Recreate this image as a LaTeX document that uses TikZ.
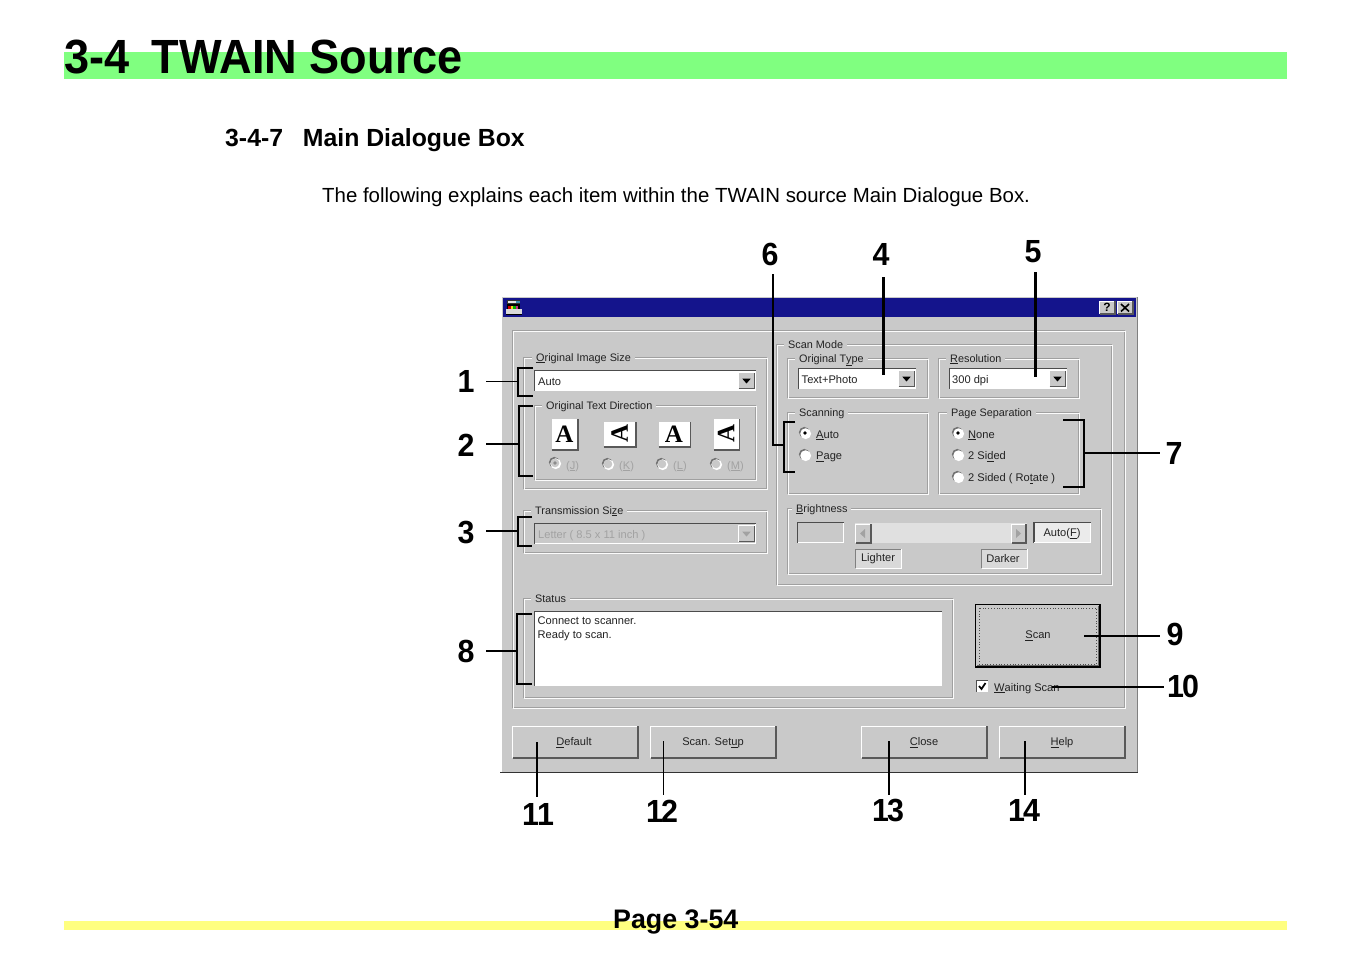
\documentclass[tikz,border=0pt]{standalone}
\usepackage{fontspec}
\usepackage{graphicx}
\setmainfont{Liberation Sans}
\newfontfamily\iconfont{Liberation Serif}
\definecolor{bg}{HTML}{C9C9C9}
\definecolor{navy}{HTML}{14148C}
\definecolor{barg}{HTML}{80FF80}
\definecolor{bary}{HTML}{FFFF80}
\definecolor{etch}{HTML}{A0A0A0}
\definecolor{uitxt}{HTML}{222222}
\definecolor{off}{HTML}{A2A2A2}
\newcount\lc
\tikzset{
  uilab/.style={anchor=base west,inner sep=0pt,text=uitxt,font=\fontsize{11.1}{13}\selectfont},
  uictr/.style={anchor=center,inner sep=0pt,text=uitxt,font=\fontsize{11.1}{13}\selectfont},
  grouptitle/.style={anchor=base west,inner xsep=4pt,inner ysep=1pt,fill=bg,text=uitxt,font=\fontsize{10.85}{13}\selectfont},
  etchd/.style={draw=etch,line width=1pt},
  etchw/.style={draw=white!92!bg,line width=1pt},
  bracket/.style={draw=black,line width=2pt,line join=miter},
  callout/.style={draw=black,line width=1.7pt},
  num/.style={inner sep=0pt,anchor=center,text=black,font=\fontsize{32}{34}\selectfont\bfseries},
  head/.style={anchor=base west,inner sep=0pt,text=black,font=\bfseries}
}
\newcommand{\lab}[3]{\global\advance\lc by 1 \node[uilab] (lab\the\lc) at (#1,#2) {#3};}
\newcommand{\laboff}[3]{\global\advance\lc by 1 \node[uilab,text=off] (lab\the\lc) at (#1,#2) {#3};}
\newcommand{\ctr}[3]{\global\advance\lc by 1 \node[uictr] (lab\the\lc) at (#1,#2+1) {#3};}
\newcommand{\grp}[6]{%
  \draw[etchd] (#1-0.5,#2-0.5) rectangle (#3-0.5,#4-0.5);
  \draw[etchw] (#1+0.5,#2+0.5) rectangle (#3+0.5,#4+0.5);
  \global\advance\lc by 1
  \node[grouptitle] (lab\the\lc) at (#5-4,#2+3) {#6};}
\newcommand{\raisedbox}[4]{%
  \fill[bg] (#1,#2) rectangle (#3,#4);
  \draw[white,line width=1pt] (#1,#4) -- (#1,#2) -- (#3,#2);
  \draw[black!65,line width=1.4pt] (#1,#4) -- (#3,#4) -- (#3,#2);}
\newcommand{\sunkbox}[5]{%
  \fill[#5] (#1-0.5,#2-0.5) rectangle (#3-0.5,#4-0.5);
  \draw[black!70,line width=1.4pt] (#1-0.5,#4-0.5) -- (#1-0.5,#2-0.5) -- (#3-0.5,#2-0.5);
  \draw[white,line width=1pt] (#1-0.5,#4-0.5) -- (#3-0.5,#4-0.5) -- (#3-0.5,#2-0.5);}
\newcommand{\combobtn}[3]{%
  \raisedbox{#1-0.5}{#2-0.5}{#1+15.5}{#2+15.5}
  \fill[#3] (#1+3.3,#2+5.7) -- (#1+11.7,#2+5.7) -- (#1+7.5,#2+10.5) -- cycle;}
\newcommand{\radio}[3]{%
  \fill[black!55] (#1-0.7,#2-0.7) circle[radius=5.4pt];
  \fill[white] (#1+0.7,#2+0.7) circle[radius=5.4pt];
  \fill[#3] (#1,#2) circle[radius=4.3pt];}
\newcommand{\radiodot}[2]{\fill[black] (#1,#2) circle[radius=1.8pt];}
\newcommand{\nn}[1]{\scalebox{0.95}[1]{#1}}
\newcommand{\nnn}[2]{\scalebox{0.95}[1]{#1\kern-2pt #2}}
\begin{document}
\begin{tikzpicture}[x=1pt,y=-1pt]
\useasboundingbox (0,0) rectangle (1352,954);
\fill[white] (0,0) rectangle (1352,954);
% page furniture
\fill[barg] (64,52) rectangle (1287,79);
\fill[bary] (64,921) rectangle (1287,930);
\node[head,font=\fontsize{48}{50}\selectfont\bfseries] (title) at (64,73) {\scalebox{0.94}[1]{3-4\hspace{0.5em}TWAIN Source}};
\node[head,font=\fontsize{24.8}{26}\selectfont\bfseries] (subtitle) at (225,146) {3-4-7\hspace{0.8em}Main Dialogue Box};
\node[anchor=base west,inner sep=0pt,font=\fontsize{20.43}{22}\selectfont] (intro) at (322,202) {The following explains each item within the TWAIN source Main Dialogue Box.};
\node[head,font=\fontsize{26.8}{28}\selectfont\bfseries] (page) at (613,928) {Page 3-54};
% window
\fill[bg] (501,296) rectangle (1138,773);
\draw[white,line width=1pt] (501,773) -- (501,296.5) -- (1138,296.5);
\draw[black!50,line width=1pt] (1137.5,297) -- (1137.5,773);
\draw[black!80,line width=1.4pt] (500,772.5) -- (1138,772.5);
\fill[navy] (503,298) rectangle (1136,316.5);
% window icon
\fill[black!80] (507,300) rectangle (520,304);
\fill[black!10] (508,300.8) rectangle (516,303);
\fill[cyan!70!black] (516,300.8) rectangle (519.5,303);
\fill[black] (507,304) rectangle (520,309);
\fill[red!80!black] (508,305.5) rectangle (510.5,308.5);
\fill[yellow!90!black] (510.5,305.5) rectangle (513,308.5);
\fill[green!70!black] (513,305.5) rectangle (515.5,308.5);
\fill[magenta!80!black] (515.5,305.5) rectangle (518,308.5);
\fill[black!15] (506,309) rectangle (522,314);
\draw[black,line width=0.8pt] (506,314.3) -- (522,314.3);
% title buttons
\raisedbox{1099.5}{301}{1115}{314}
\raisedbox{1117.5}{301}{1133}{314}
\node[inner sep=0pt,font=\fontsize{12}{12}\selectfont\bfseries] (help) at (1107,307.5) {?};
\coordinate (closex) at (1125,307.5);
\draw[black,line width=1.6pt] (1121,304) -- (1129,311.5) (1129,304) -- (1121,311.5);
% main panels
\draw[etchd] (512.5,330.5) rectangle (1124.5,707.5);
\draw[etchw] (513.5,331.5) rectangle (1125.5,708.5);
\grp{524}{358}{767}{489}{536}{\underline{O}riginal Image Size}
\grp{534.5}{406}{756}{480}{546}{Original Text Direction}
\grp{524}{511}{767}{553}{535}{Transmission Si\underline{z}e}
\grp{777}{345}{1112}{585}{788}{Scan Mode}
\grp{788}{359}{928}{398}{799}{Original T\underline{y}pe}
\grp{938.5}{359}{1079}{398}{950}{\underline{R}esolution}
\grp{788}{413}{928}{494}{799}{Scanning}
\grp{939}{413}{1079}{494}{951}{Page Separation}
\grp{788}{509}{1101}{574}{796}{\underline{B}rightness}
\grp{524}{599}{953}{698}{535}{Status}
% combos
\sunkbox{535}{371}{756}{391}{white}
\lab{538}{385}{Auto}
\combobtn{739}{373}{black}
\sunkbox{535}{524}{756}{544}{bg}
\laboff{538}{538}{Letter ( 8.5 x 11 inch )}
\combobtn{739}{526}{off}
\sunkbox{799}{369}{916}{389}{white}
\lab{801.5}{383}{Text+Photo}
\combobtn{899}{371}{black}
\sunkbox{950}{369}{1067}{389}{white}
\lab{952}{383}{300 dpi}
\combobtn{1050}{371}{black}
% direction icons
\fill[white] (551.5,418.5) rectangle (578,450);
\draw[black!65,line width=1.3pt] (551.5,450) -- (578,450) -- (578,418.5);
\fill[white] (603.5,421.5) rectangle (636,447);
\draw[black!65,line width=1.3pt] (603.5,447) -- (636,447) -- (636,421.5);
\fill[white] (658.5,421.5) rectangle (690.5,447);
\draw[black!65,line width=1.3pt] (658.5,447) -- (690.5,447) -- (690.5,421.5);
\fill[white] (713.5,418.5) rectangle (739.5,450);
\draw[black!65,line width=1.3pt] (713.5,450) -- (739.5,450) -- (739.5,418.5);
\node[inner sep=0pt,font=\iconfont\fontsize{25}{25}\selectfont\bfseries] (iconA) at (564.5,434) {A};
\node[inner sep=0pt,rotate=90,font=\iconfont\fontsize{25}{25}\selectfont\bfseries] (iconB) at (619.5,433.5) {A};
\node[inner sep=0pt,font=\iconfont\fontsize{25}{25}\selectfont\bfseries] (iconC) at (674,434) {A};
\node[inner sep=0pt,rotate=90,font=\iconfont\fontsize{25}{25}\selectfont\bfseries] (iconD) at (726,433.5) {A};
% direction radios
\radio{555}{463}{bg}\fill[black!45] (555,463) circle[radius=1.8pt];
\radio{608}{464}{bg}
\radio{662}{464}{bg}
\radio{716}{464}{bg}
\laboff{566}{469}{(\underline{J})}
\laboff{619}{469}{(\underline{K})}
\laboff{673}{469}{(\underline{L})}
\laboff{727}{469}{(\underline{M})}
% scanning radios
\radio{805}{433}{white}\radiodot{805}{433}
\radio{805}{455}{white}
\lab{816}{438}{\underline{A}uto}
\lab{816}{459.5}{\underline{P}age}
% page separation radios
\radio{958}{433}{white}\radiodot{958}{433}
\radio{958}{455}{white}
\radio{958}{477}{white}
\lab{968}{438}{\underline{N}one}
\lab{968}{459.5}{2 Si\underline{d}ed}
\lab{968}{481.5}{2 Sided ( Ro\underline{t}ate )}
% brightness
\sunkbox{798}{523}{844}{543}{bg}
\fill[black!12] (855,523) rectangle (1027,543);
\raisedbox{855.5}{524}{871}{543}
\fill[off] (860,533.5) -- (865,529) -- (865,538) -- cycle;
\raisedbox{1011.5}{524}{1026}{543}
\fill[off] (1021,533.5) -- (1016,529) -- (1016,538) -- cycle;
\sunkbox{1034.5}{523}{1091}{543}{black!8}
\ctr{1062}{532.5}{Auto(\underline{F})}
\fill[black!15] (855.5,549) rectangle (901,568);
\draw[white,line width=1pt] (855.5,568) -- (901,568) -- (901,549);
\draw[black!50,line width=1pt] (855.5,568) -- (855.5,549) -- (901,549);
\ctr{878}{558}{Lighter}
\fill[black!15] (981.5,549) rectangle (1027,568);
\draw[white,line width=1pt] (981.5,568) -- (1027,568) -- (1027,549);
\draw[black!50,line width=1pt] (981.5,568) -- (981.5,549) -- (1027,549);
\ctr{1003}{558}{Darker}
% status box
\sunkbox{535}{612}{942}{686}{white}
\lab{537.5}{624}{Connect to scanner.}
\lab{537.5}{638.5}{Ready to scan.}
% scan button
\fill[bg] (975.5,604.5) rectangle (1100,667);
\draw[black,line width=1.2pt] (975.5,604.5) rectangle (1100,667);
\draw[black!60,line width=1.2pt] (977,665.5) -- (1098.5,665.5) -- (1098.5,606);
\draw[black!70,line width=0.8pt,dotted] (979,608) rectangle (1096,664);
\ctr{1038}{635}{\underline{S}can}
% checkbox
\sunkbox{977}{681}{988}{692}{white}
\draw[black,line width=1.7pt] (979,686) -- (981.5,689) -- (985.5,683);
\lab{994}{691}{\underline{W}aiting Scan}
% push buttons
\raisedbox{512.5}{726}{638}{758}
\raisedbox{650.5}{726}{776}{758}
\raisedbox{861.5}{726}{987}{758}
\raisedbox{999.5}{726}{1125}{758}
\ctr{574}{741.5}{\underline{D}efault}
\ctr{713}{741.5}{Scan. Set\underline{u}p}
\ctr{924}{741.5}{\underline{C}lose}
\ctr{1062}{741.5}{\underline{H}elp}
% callout numbers
\node[num,minimum width=40pt,minimum height=30pt] (n1) at (466,381) {\nn{1}};
\node[num,minimum width=40pt,minimum height=30pt] (n2) at (466,445) {\nn{2}};
\node[num,minimum width=40pt,minimum height=30pt] (n3) at (466,532) {\nn{3}};
\node[num,minimum width=40pt,minimum height=30pt] (n8) at (466,651) {\nn{8}};
\node[num,minimum width=20pt,minimum height=40pt] (n6) at (770,254) {\nn{6}};
\node[num,minimum width=20pt,minimum height=46pt] (n4) at (881,254) {\nn{4}};
\node[num,minimum width=20pt,minimum height=40pt] (n5) at (1033,252) {\nn{5}};
\node[num,minimum width=28pt,minimum height=30pt] (n7) at (1174,453) {\nn{7}};
\node[num,minimum width=30pt,minimum height=30pt] (n9) at (1175,634) {\nn{9}};
\node[num,minimum width=38pt,minimum height=30pt] (n10) at (1183,686) {\nnn{1}{0}};
\node[num,minimum width=30pt,minimum height=34pt] (n11) at (538,814) {\nnn{1}{1}};
\node[num,minimum width=30pt,minimum height=32pt] (n12) at (662,811) {\nnn{1}{2}};
\node[num,minimum width=30pt,minimum height=30pt] (n13) at (888,810) {\nnn{1}{3}};
\node[num,minimum width=30pt,minimum height=30pt] (n14) at (1024,810) {\nnn{1}{4}};
% bracket targets
\coordinate (b1) at (518,381.5);
\coordinate (b2) at (518.5,444);
\coordinate (b3) at (518,531);
\coordinate (b8) at (517,651);
\coordinate (b6) at (784,445);
\coordinate (b7) at (1084,453);
\coordinate (t4) at (883.5,375);
\coordinate (t5) at (1035.5,377);
\coordinate (t9) at (1084,636);
\coordinate (t10) at (1052,687);
\coordinate (t11) at (536.7,742);
\coordinate (t12) at (663.5,741);
\coordinate (t13) at (889,741);
\coordinate (t14) at (1025,741);
% brackets
\draw[bracket] (533,368) -| (518,396) -- (533,396);
\draw[bracket] (533,406) -| (518.5,476) -- (533,476);
\draw[bracket] (532,517) -| (518,546) -- (532,546);
\draw[bracket] (532,614) -| (517,684) -- (532,684);
\draw[bracket] (795,422) -| (784,472) -- (795,472);
\draw[bracket] (1063,420) -| (1084,487) -- (1063,487);
% connectors
\draw[callout] (n1.east |- b1) -- (b1);
\draw[callout] (n2.east |- b2) -- (b2);
\draw[callout] (n3.east |- b3) -- (b3);
\draw[callout] (n8.east |- b8) -- (b8);
\draw[callout,line join=miter] ([xshift=3pt]n6.south) |- (b6);
\draw[callout,line width=2.2pt] ([xshift=2.5pt]n4.south) -- (t4);
\draw[callout,line width=2.2pt] ([xshift=2.5pt]n5.south) -- (t5);
\draw[callout] (n7.west |- b7) -- (b7);
\draw[callout] (n9.west |- t9) -- (t9);
\draw[callout] (n10.west |- t10) -- (t10);
\draw[callout] (n11.north -| t11) -- (t11);
\draw[callout] (n12.north -| t12) -- (t12);
\draw[callout] (n13.north -| t13) -- (t13);
\draw[callout] (n14.north -| t14) -- (t14);
\end{tikzpicture}
\end{document}
